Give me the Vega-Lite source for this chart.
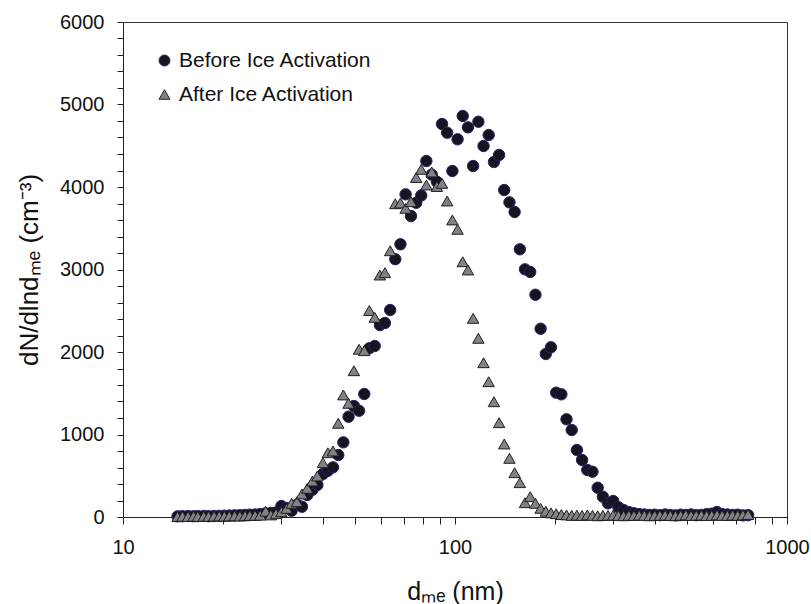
{
"$schema": "https://vega.github.io/schema/vega-lite/v6.json",
"width": 664, "height": 495,
"autosize": {"type": "none"},
"padding": {"left": 123, "top": 22, "right": 24, "bottom": 87},
"background": "white",
"config": {"font": "Liberation Sans", "view": {"stroke": "#333", "strokeWidth": 1}},
"datasets": {
"pts": [
{"d":14.6,"v":8,"s":"Before Ice Activation"},{"d":15.1,"v":10,"s":"Before Ice Activation"},{"d":15.7,"v":12,"s":"Before Ice Activation"},{"d":16.3,"v":9,"s":"Before Ice Activation"},{"d":16.8,"v":11,"s":"Before Ice Activation"},{"d":17.5,"v":13,"s":"Before Ice Activation"},{"d":18.1,"v":10,"s":"Before Ice Activation"},{"d":18.8,"v":12,"s":"Before Ice Activation"},{"d":19.5,"v":14,"s":"Before Ice Activation"},{"d":20.2,"v":15,"s":"Before Ice Activation"},
{"d":20.9,"v":18,"s":"Before Ice Activation"},{"d":21.7,"v":20,"s":"Before Ice Activation"},{"d":22.5,"v":22,"s":"Before Ice Activation"},{"d":23.3,"v":25,"s":"Before Ice Activation"},{"d":24.1,"v":28,"s":"Before Ice Activation"},{"d":25.0,"v":30,"s":"Before Ice Activation"},{"d":25.9,"v":35,"s":"Before Ice Activation"},{"d":26.9,"v":45,"s":"Before Ice Activation"},{"d":27.9,"v":50,"s":"Before Ice Activation"},{"d":28.9,"v":55,"s":"Before Ice Activation"},
{"d":30.0,"v":133,"s":"Before Ice Activation"},{"d":31.1,"v":110,"s":"Before Ice Activation"},{"d":32.2,"v":76,"s":"Before Ice Activation"},{"d":33.4,"v":150,"s":"Before Ice Activation"},{"d":34.6,"v":125,"s":"Before Ice Activation"},{"d":35.9,"v":267,"s":"Before Ice Activation"},{"d":37.2,"v":330,"s":"Before Ice Activation"},{"d":38.5,"v":388,"s":"Before Ice Activation"},{"d":40.0,"v":521,"s":"Before Ice Activation"},{"d":41.4,"v":560,"s":"Before Ice Activation"},
{"d":42.9,"v":602,"s":"Before Ice Activation"},{"d":44.5,"v":751,"s":"Before Ice Activation"},{"d":46.1,"v":905,"s":"Before Ice Activation"},{"d":47.8,"v":1216,"s":"Before Ice Activation"},{"d":49.6,"v":1345,"s":"Before Ice Activation"},{"d":51.4,"v":1288,"s":"Before Ice Activation"},{"d":53.3,"v":1491,"s":"Before Ice Activation"},{"d":55.2,"v":2045,"s":"Before Ice Activation"},{"d":57.3,"v":2073,"s":"Before Ice Activation"},{"d":59.4,"v":2327,"s":"Before Ice Activation"},
{"d":61.5,"v":2351,"s":"Before Ice Activation"},{"d":63.8,"v":2509,"s":"Before Ice Activation"},{"d":66.1,"v":3125,"s":"Before Ice Activation"},{"d":68.5,"v":3306,"s":"Before Ice Activation"},{"d":71.0,"v":3911,"s":"Before Ice Activation"},{"d":73.7,"v":3648,"s":"Before Ice Activation"},{"d":76.4,"v":3809,"s":"Before Ice Activation"},{"d":79.1,"v":3897,"s":"Before Ice Activation"},{"d":82.0,"v":4315,"s":"Before Ice Activation"},{"d":85.1,"v":4150,"s":"Before Ice Activation"},
{"d":88.2,"v":4064,"s":"Before Ice Activation"},{"d":91.4,"v":4763,"s":"Before Ice Activation"},{"d":94.7,"v":4658,"s":"Before Ice Activation"},{"d":98.2,"v":4194,"s":"Before Ice Activation"},{"d":101.8,"v":4578,"s":"Before Ice Activation"},{"d":105.5,"v":4861,"s":"Before Ice Activation"},{"d":109.4,"v":4723,"s":"Before Ice Activation"},{"d":113.4,"v":4254,"s":"Before Ice Activation"},{"d":117.6,"v":4791,"s":"Before Ice Activation"},{"d":121.9,"v":4497,"s":"Before Ice Activation"},
{"d":126.3,"v":4630,"s":"Before Ice Activation"},{"d":131.0,"v":4303,"s":"Before Ice Activation"},{"d":135.8,"v":4388,"s":"Before Ice Activation"},{"d":140.7,"v":3963,"s":"Before Ice Activation"},{"d":145.9,"v":3814,"s":"Before Ice Activation"},{"d":151.2,"v":3697,"s":"Before Ice Activation"},{"d":156.8,"v":3245,"s":"Before Ice Activation"},{"d":162.5,"v":3002,"s":"Before Ice Activation"},{"d":168.5,"v":2970,"s":"Before Ice Activation"},{"d":174.7,"v":2694,"s":"Before Ice Activation"},
{"d":181.1,"v":2282,"s":"Before Ice Activation"},{"d":187.7,"v":1976,"s":"Before Ice Activation"},{"d":194.6,"v":2057,"s":"Before Ice Activation"},{"d":201.7,"v":1507,"s":"Before Ice Activation"},{"d":209.1,"v":1487,"s":"Before Ice Activation"},{"d":216.7,"v":1184,"s":"Before Ice Activation"},{"d":224.7,"v":1054,"s":"Before Ice Activation"},{"d":232.9,"v":812,"s":"Before Ice Activation"},{"d":241.4,"v":691,"s":"Before Ice Activation"},{"d":250.3,"v":570,"s":"Before Ice Activation"},
{"d":259.5,"v":549,"s":"Before Ice Activation"},{"d":269.0,"v":355,"s":"Before Ice Activation"},{"d":278.8,"v":246,"s":"Before Ice Activation"},{"d":289.0,"v":166,"s":"Before Ice Activation"},{"d":299.6,"v":194,"s":"Before Ice Activation"},{"d":310.6,"v":118,"s":"Before Ice Activation"},{"d":322.0,"v":85,"s":"Before Ice Activation"},{"d":333.8,"v":60,"s":"Before Ice Activation"},{"d":346.0,"v":45,"s":"Before Ice Activation"},{"d":358.7,"v":35,"s":"Before Ice Activation"},
{"d":371.8,"v":30,"s":"Before Ice Activation"},{"d":385.4,"v":25,"s":"Before Ice Activation"},{"d":399.5,"v":28,"s":"Before Ice Activation"},{"d":414.2,"v":22,"s":"Before Ice Activation"},{"d":429.4,"v":30,"s":"Before Ice Activation"},{"d":445.1,"v":25,"s":"Before Ice Activation"},{"d":461.4,"v":20,"s":"Before Ice Activation"},{"d":478.3,"v":28,"s":"Before Ice Activation"},{"d":495.8,"v":25,"s":"Before Ice Activation"},{"d":514.0,"v":30,"s":"Before Ice Activation"},
{"d":532.8,"v":22,"s":"Before Ice Activation"},{"d":552.3,"v":25,"s":"Before Ice Activation"},{"d":572.5,"v":35,"s":"Before Ice Activation"},{"d":593.5,"v":40,"s":"Before Ice Activation"},{"d":615.3,"v":60,"s":"Before Ice Activation"},{"d":637.8,"v":35,"s":"Before Ice Activation"},{"d":661.2,"v":30,"s":"Before Ice Activation"},{"d":685.4,"v":25,"s":"Before Ice Activation"},{"d":710.5,"v":28,"s":"Before Ice Activation"},{"d":736.5,"v":20,"s":"Before Ice Activation"},{"d":763.5,"v":22,"s":"Before Ice Activation"},
{"d":14.6,"v":5,"s":"After Ice Activation"},{"d":15.1,"v":8,"s":"After Ice Activation"},{"d":15.7,"v":6,"s":"After Ice Activation"},{"d":16.3,"v":10,"s":"After Ice Activation"},{"d":16.8,"v":7,"s":"After Ice Activation"},{"d":17.5,"v":9,"s":"After Ice Activation"},{"d":18.1,"v":8,"s":"After Ice Activation"},{"d":18.8,"v":10,"s":"After Ice Activation"},{"d":19.5,"v":12,"s":"After Ice Activation"},{"d":20.2,"v":10,"s":"After Ice Activation"},
{"d":20.9,"v":12,"s":"After Ice Activation"},{"d":21.7,"v":14,"s":"After Ice Activation"},{"d":22.5,"v":12,"s":"After Ice Activation"},{"d":23.3,"v":15,"s":"After Ice Activation"},{"d":24.1,"v":18,"s":"After Ice Activation"},{"d":25.0,"v":20,"s":"After Ice Activation"},{"d":25.9,"v":22,"s":"After Ice Activation"},{"d":26.9,"v":70,"s":"After Ice Activation"},{"d":27.9,"v":25,"s":"After Ice Activation"},{"d":28.9,"v":40,"s":"After Ice Activation"},
{"d":30.0,"v":64,"s":"After Ice Activation"},{"d":31.1,"v":105,"s":"After Ice Activation"},{"d":32.2,"v":166,"s":"After Ice Activation"},{"d":33.4,"v":185,"s":"After Ice Activation"},{"d":34.6,"v":279,"s":"After Ice Activation"},{"d":35.9,"v":348,"s":"After Ice Activation"},{"d":37.2,"v":436,"s":"After Ice Activation"},{"d":38.5,"v":497,"s":"After Ice Activation"},{"d":40.0,"v":658,"s":"After Ice Activation"},{"d":41.4,"v":779,"s":"After Ice Activation"},
{"d":42.9,"v":800,"s":"After Ice Activation"},{"d":44.5,"v":1136,"s":"After Ice Activation"},{"d":46.1,"v":1479,"s":"After Ice Activation"},{"d":47.8,"v":1378,"s":"After Ice Activation"},{"d":49.6,"v":1773,"s":"After Ice Activation"},{"d":51.4,"v":2033,"s":"After Ice Activation"},{"d":53.3,"v":2016,"s":"After Ice Activation"},{"d":55.2,"v":2503,"s":"After Ice Activation"},{"d":57.3,"v":2420,"s":"After Ice Activation"},{"d":59.4,"v":2933,"s":"After Ice Activation"},
{"d":61.5,"v":2961,"s":"After Ice Activation"},{"d":63.8,"v":3227,"s":"After Ice Activation"},{"d":66.1,"v":3797,"s":"After Ice Activation"},{"d":68.5,"v":3806,"s":"After Ice Activation"},{"d":71.0,"v":3741,"s":"After Ice Activation"},{"d":73.7,"v":3822,"s":"After Ice Activation"},{"d":76.4,"v":4115,"s":"After Ice Activation"},{"d":79.1,"v":4214,"s":"After Ice Activation"},{"d":82.0,"v":4024,"s":"After Ice Activation"},{"d":85.1,"v":4182,"s":"After Ice Activation"},
{"d":88.2,"v":4006,"s":"After Ice Activation"},{"d":91.4,"v":4044,"s":"After Ice Activation"},{"d":94.7,"v":3830,"s":"After Ice Activation"},{"d":98.2,"v":3600,"s":"After Ice Activation"},{"d":101.8,"v":3487,"s":"After Ice Activation"},{"d":105.5,"v":3094,"s":"After Ice Activation"},{"d":109.4,"v":2994,"s":"After Ice Activation"},{"d":113.4,"v":2408,"s":"After Ice Activation"},{"d":117.6,"v":2166,"s":"After Ice Activation"},{"d":121.9,"v":1870,"s":"After Ice Activation"},
{"d":126.3,"v":1640,"s":"After Ice Activation"},{"d":131.0,"v":1397,"s":"After Ice Activation"},{"d":135.8,"v":1143,"s":"After Ice Activation"},{"d":140.7,"v":885,"s":"After Ice Activation"},{"d":145.9,"v":711,"s":"After Ice Activation"},{"d":151.2,"v":537,"s":"After Ice Activation"},{"d":156.8,"v":416,"s":"After Ice Activation"},{"d":162.5,"v":173,"s":"After Ice Activation"},{"d":168.5,"v":246,"s":"After Ice Activation"},{"d":174.7,"v":166,"s":"After Ice Activation"},
{"d":181.1,"v":105,"s":"After Ice Activation"},{"d":187.7,"v":70,"s":"After Ice Activation"},{"d":194.6,"v":50,"s":"After Ice Activation"},{"d":201.7,"v":40,"s":"After Ice Activation"},{"d":209.1,"v":30,"s":"After Ice Activation"},{"d":216.7,"v":25,"s":"After Ice Activation"},{"d":224.7,"v":20,"s":"After Ice Activation"},{"d":232.9,"v":22,"s":"After Ice Activation"},{"d":241.4,"v":18,"s":"After Ice Activation"},{"d":250.3,"v":25,"s":"After Ice Activation"},
{"d":259.5,"v":20,"s":"After Ice Activation"},{"d":269.0,"v":15,"s":"After Ice Activation"},{"d":278.8,"v":18,"s":"After Ice Activation"},{"d":289.0,"v":20,"s":"After Ice Activation"},{"d":299.6,"v":22,"s":"After Ice Activation"},{"d":310.6,"v":18,"s":"After Ice Activation"},{"d":322.0,"v":15,"s":"After Ice Activation"},{"d":333.8,"v":20,"s":"After Ice Activation"},{"d":346.0,"v":18,"s":"After Ice Activation"},{"d":358.7,"v":22,"s":"After Ice Activation"},
{"d":371.8,"v":20,"s":"After Ice Activation"},{"d":385.4,"v":15,"s":"After Ice Activation"},{"d":399.5,"v":18,"s":"After Ice Activation"},{"d":414.2,"v":20,"s":"After Ice Activation"},{"d":429.4,"v":22,"s":"After Ice Activation"},{"d":445.1,"v":18,"s":"After Ice Activation"},{"d":461.4,"v":15,"s":"After Ice Activation"},{"d":478.3,"v":20,"s":"After Ice Activation"},{"d":495.8,"v":25,"s":"After Ice Activation"},{"d":514.0,"v":18,"s":"After Ice Activation"},
{"d":532.8,"v":20,"s":"After Ice Activation"},{"d":552.3,"v":22,"s":"After Ice Activation"},{"d":572.5,"v":18,"s":"After Ice Activation"},{"d":593.5,"v":20,"s":"After Ice Activation"},{"d":615.3,"v":25,"s":"After Ice Activation"},{"d":637.8,"v":20,"s":"After Ice Activation"},{"d":661.2,"v":18,"s":"After Ice Activation"},{"d":685.4,"v":22,"s":"After Ice Activation"},{"d":710.5,"v":20,"s":"After Ice Activation"},{"d":736.5,"v":25,"s":"After Ice Activation"},{"d":763.5,"v":30,"s":"After Ice Activation"}
]
},
"data": {"name": "pts"},
"mark": {"type": "point", "filled": true, "opacity": 1, "strokeWidth": 1, "strokeOpacity": 1, "size": 130},
"encoding": {
"x": {"field": "d", "type": "quantitative",
 "scale": {"type": "log", "domain": [10, 1000], "nice": false},
 "axis": {"values": [10,20,30,40,50,60,70,80,90,100,200,300,400,500,600,700,800,900,1000],
  "labelExpr": "datum.value == 10 ? '10' : datum.value == 100 ? '100' : datum.value == 1000 ? '1000' : ''",
  "title": "dₘₑ (nm)", "grid": false, "tickSize": 7, "tickColor": "#222", "domainColor": "#222",
  "labelFontSize": 20, "labelPadding": 13, "labelColor": "#111", "labelOverlap": false, "labelFlush": false,
  "titleFontSize": 25, "titleFontWeight": "normal", "titleColor": "#111", "titlePadding": 22}},
"y": {"field": "v", "type": "quantitative",
 "scale": {"domain": [0, 6000], "nice": false, "zero": true},
 "axis": {"values": [0,200,400,600,800,1000,1200,1400,1600,1800,2000,2200,2400,2600,2800,3000,3200,3400,3600,3800,4000,4200,4400,4600,4800,5000,5200,5400,5600,5800,6000],
  "labelExpr": "datum.value % 1000 == 0 ? '' + datum.value : ''",
  "title": "dN/dlndₘₑ (cm⁻³)", "grid": false, "tickSize": 6, "tickColor": "#222", "domainColor": "#222",
  "labelFontSize": 20, "labelPadding": 13, "labelColor": "#111", "labelOverlap": false, "labelFlush": false,
  "titleFontSize": 26, "titleFontWeight": "normal", "titleColor": "#111", "titlePadding": 17}},
"shape": {"field": "s", "type": "nominal",
 "scale": {"domain": ["Before Ice Activation", "After Ice Activation"], "range": ["circle", "triangle-up"]},
 "legend": {"orient": "none", "legendX": 31, "legendY": 28, "title": null, "padding": 0, "labelFontSize": 21, "labelLimit": 500, "labelColor": "#111", "symbolSize": 120, "symbolStrokeWidth": 1, "rowPadding": 12, "labelOffset": 4}},
"fill": {"field": "s", "type": "nominal",
 "scale": {"domain": ["Before Ice Activation", "After Ice Activation"], "range": ["#15141f", "#808386"]},
 "legend": {"orient": "none", "legendX": 31, "legendY": 28, "title": null, "padding": 0, "labelFontSize": 21, "labelLimit": 500, "labelColor": "#111", "symbolSize": 120, "symbolStrokeWidth": 1, "rowPadding": 12, "labelOffset": 4}},
"stroke": {"field": "s", "type": "nominal",
 "scale": {"domain": ["Before Ice Activation", "After Ice Activation"], "range": ["#2b1f6b", "#1f1f1f"]},
 "legend": {"orient": "none", "legendX": 31, "legendY": 28, "title": null, "padding": 0, "labelFontSize": 21, "labelLimit": 500, "labelColor": "#111", "symbolSize": 120, "symbolStrokeWidth": 1, "rowPadding": 12, "labelOffset": 4}}
}
}
